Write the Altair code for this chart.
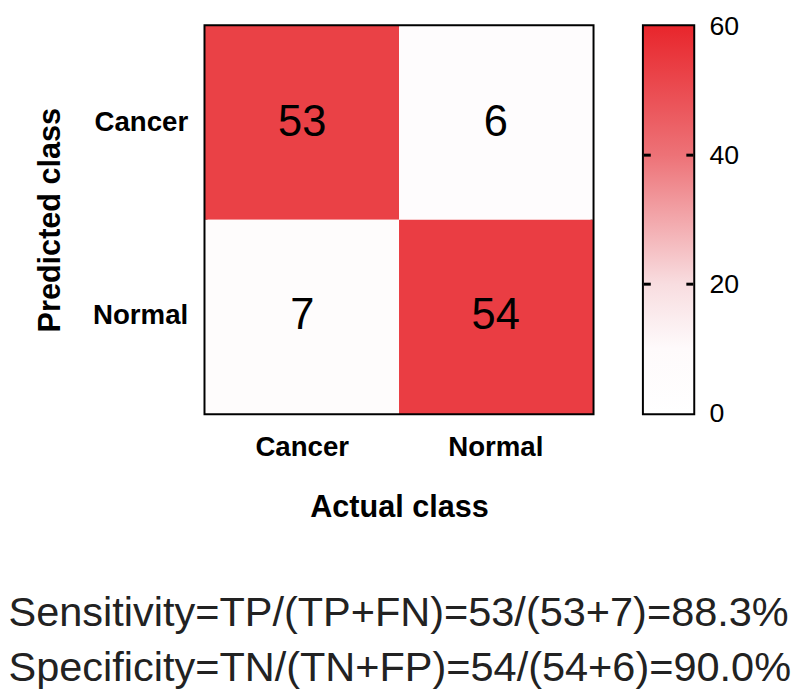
import altair as alt
import pandas as pd

classes = ["Cancer", "Normal"]
actual = ["Cancer", "Normal", "Cancer", "Normal"]
predicted = ["Cancer", "Cancer", "Normal", "Normal"]
counts = [53, 6, 7, 54]

cbar_ticks = [0, 20, 40, 60]
cbar_inner_ticks = [20, 40]
color_domain = [0, 10, 20, 40, 60]
color_range = ["#ffffff", "#fefafb", "#f8dde0", "#ed7277", "#e8262c"]

line1 = "Sensitivity=TP/(TP+FN)=53/(53+7)=88.3%"
line2 = "Specificity=TN/(TN+FP)=54/(54+6)=90.0%"

FONT = "Liberation Sans"

df = pd.DataFrame({"actual": actual, "predicted": predicted, "count": counts})

xenc = alt.X("actual:N", sort=classes,
             scale=alt.Scale(paddingInner=0, paddingOuter=0),
             axis=alt.Axis(title="Actual class", labelAngle=0, labelFontSize=28,
                           labelFontWeight="bold", titleFontSize=31, titleFontWeight="bold",
                           ticks=False, domain=False, labelPadding=21, titlePadding=32,
                           labelColor="black", titleColor="black"))
yenc = alt.Y("predicted:N", sort=classes,
             scale=alt.Scale(paddingInner=0, paddingOuter=0),
             axis=alt.Axis(title="Predicted class", labelFontSize=28,
                           labelFontWeight="bold", titleFontSize=31, titleFontWeight="bold",
                           ticks=False, domain=False, labelPadding=18, titlePadding=26,
                           labelColor="black", titleColor="black"))

base = alt.Chart(df).encode(x=xenc, y=yenc)
rects = base.mark_rect().encode(
    color=alt.Color("count:Q",
                    scale=alt.Scale(domain=color_domain, range=color_range, interpolate="rgb"),
                    legend=None)
)
labels = base.mark_text(fontSize=44, font=FONT, color="black").encode(text="count:Q")
heat = (rects + labels).properties(width=392, height=392)

# colorbar
bar_df = pd.DataFrame({"lo": [cbar_ticks[0]], "hi": [cbar_ticks[-1]]})
grad = alt.Gradient(
    gradient="linear",
    stops=[alt.GradientStop(color=c, offset=(v - color_domain[0]) / (color_domain[-1] - color_domain[0]))
           for c, v in zip(color_range, color_domain)],
    x1=0, x2=0, y1=1, y2=0,
)
ysc = alt.Scale(domain=[cbar_ticks[0], cbar_ticks[-1]], nice=False, zero=False)
cbar_rect = alt.Chart(bar_df).mark_rect(fill=grad).encode(
    y=alt.Y("lo:Q", scale=ysc,
            axis=alt.Axis(orient="right", values=cbar_ticks, title=None, ticks=False,
                          domain=False, grid=False, labelFontSize=27, labelPadding=16,
                          labelColor="black", labelFont=FONT)),
    y2="hi:Q",
    x=alt.value(0), x2=alt.value(50),
)
tick_df = pd.DataFrame({"t": cbar_inner_ticks})
tick_l = alt.Chart(tick_df).mark_rule(color="black", strokeWidth=3).encode(
    y=alt.Y("t:Q", scale=ysc), x=alt.value(0), x2=alt.value(7))
tick_r = alt.Chart(tick_df).mark_rule(color="black", strokeWidth=3).encode(
    y=alt.Y("t:Q", scale=ysc), x=alt.value(43), x2=alt.value(50))
cbar = (cbar_rect + tick_l + tick_r).properties(width=50, height=392)

chart = alt.hconcat(heat, cbar, spacing=46).properties(
    padding={"left": 0, "top": -2, "right": 0, "bottom": 0},
    title=alt.TitleParams(text=[line1, line2], orient="bottom", anchor="start",
                          fontSize=42, fontWeight="normal", font=FONT, color="#222222",
                          lineHeight=55, offset=70, frame="bounds", dx=-25),
).configure(font=FONT, view=alt.ViewConfig(stroke="black", strokeWidth=4))

chart.save("out.html", embed_options={"renderer": "svg", "actions": False})
